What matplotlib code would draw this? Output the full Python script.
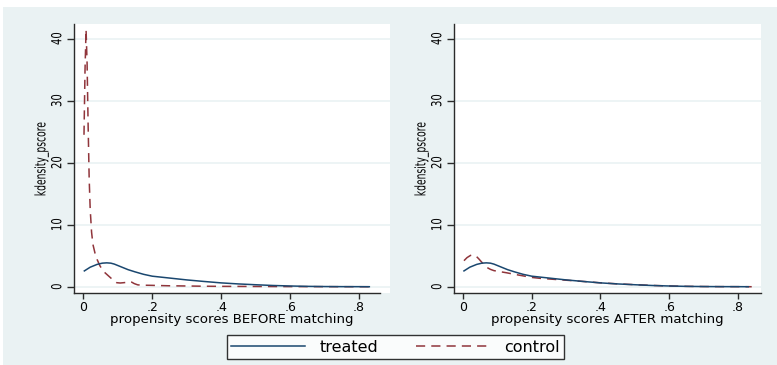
import matplotlib
matplotlib.use("Agg")
import matplotlib.pyplot as plt
from matplotlib.patches import Rectangle
from matplotlib.lines import Line2D
from matplotlib.patheffects import AbstractPathEffect
from matplotlib.transforms import Affine2D

# ---------------- data ----------------
treated_x = [0.003, 0.02, 0.04, 0.055, 0.068, 0.08, 0.09, 0.11, 0.13, 0.15, 0.175, 0.2,
             0.25, 0.3, 0.35, 0.4, 0.45, 0.5, 0.55, 0.6, 0.65, 0.7, 0.75, 0.8, 0.83]
treated_y = [2.55, 3.15, 3.6, 3.8, 3.85, 3.8, 3.65, 3.2, 2.75, 2.4, 2.0, 1.7,
             1.4, 1.1, 0.85, 0.62, 0.45, 0.32, 0.2, 0.12, 0.06, 0.03, 0.015, 0.01, 0.0]

ctrl_before_x = [0.002, 0.005, 0.008, 0.011, 0.014, 0.017, 0.02, 0.024, 0.028, 0.034,
                 0.04, 0.048, 0.058, 0.068, 0.078, 0.088, 0.097, 0.107, 0.117, 0.125,
                 0.132, 0.14, 0.148, 0.158, 0.17, 0.2, 0.25, 0.3, 0.35, 0.4, 0.5,
                 0.6, 0.7, 0.8, 0.84]
ctrl_before_y = [24.5, 35.0, 41.5, 36.0, 26.0, 17.5, 12.5, 8.8, 6.8, 5.4,
                 4.4, 3.4, 2.5, 2.0, 1.5, 1.0, 0.65, 0.6, 0.65, 0.7,
                 0.85, 0.75, 0.5, 0.3, 0.25, 0.22, 0.15, 0.12, 0.08, 0.06, 0.04,
                 0.02, 0.01, 0.0, 0.0]

ctrl_after_x = [0.003, 0.012, 0.022, 0.03, 0.038, 0.046, 0.054, 0.062, 0.07, 0.08, 0.09,
                0.1, 0.127, 0.15, 0.175, 0.2, 0.225, 0.25, 0.3, 0.35, 0.4, 0.45, 0.5,
                0.55, 0.6, 0.65, 0.7, 0.75, 0.8, 0.84]
ctrl_after_y = [4.2, 4.7, 5.05, 5.15, 4.95, 4.5, 4.0, 3.5, 3.1, 2.8, 2.6,
                2.5, 2.25, 2.0, 1.75, 1.5, 1.35, 1.25, 1.05, 0.85, 0.63, 0.46, 0.33,
                0.21, 0.12, 0.06, 0.03, 0.015, 0.01, 0.0]

x_ticks = [0, 0.2, 0.4, 0.6, 0.8]
x_ticklabels = ["0", ".2", ".4", ".6", ".8"]
y_ticks = [0, 10, 20, 30, 40]
y_ticklabels = ["0", "10", "20", "30", "40"]

panel_xlabels = ["propensity scores BEFORE matching", "propensity scores AFTER matching"]
ylabel = "kdensity_pscore"
series_labels = ["treated", "control"]

# ---------------- style ----------------
BG = "#EAF2F3"
NAVY = "#1A476F"
MAROON = "#90353B"
SPINE = "#2b2b2b"


class Condense(AbstractPathEffect):
    """Draw text squeezed along its own baseline (about its centre)."""

    def __init__(self, factor):
        super().__init__()
        self.factor = factor

    def draw_path(self, renderer, gc, tpath, affine, rgbFace=None):
        ext = tpath.get_extents()
        cx = 0.5 * (ext.x0 + ext.x1)
        squeeze = Affine2D().translate(-cx, 0).scale(self.factor, 1).translate(cx, 0)
        renderer.draw_path(gc, tpath, squeeze + affine, rgbFace)


plt.rcParams["font.family"] = ["DejaVu Sans"]

W, H = 777, 365
fig = plt.figure(figsize=(W / 100, H / 100), dpi=100)
fig.patch.set_facecolor("white")
fig.add_artist(Rectangle((3 / W, 0), 1 - 3 / W, 1 - 7 / H, transform=fig.transFigure,
                         facecolor=BG, edgecolor="none", zorder=-10))

bottom = 1 - 293.3 / H
height = (293.3 - 24.3) / H
axes_pos = [[74 / W, bottom, (390 - 74) / W, height],
            [454 / W, bottom, (761 - 454) / W, height]]
xlims = [(-0.027, 0.89), (-0.026, 0.867)]
spine_ends = [0.861, 0.867]
ctrl_sets = [(ctrl_before_x, ctrl_before_y), (ctrl_after_x, ctrl_after_y)]

dash = (6.0, 4.0)
for i in range(2):
    ax = fig.add_axes(axes_pos[i])
    ax.set_facecolor("white")
    ax.set_xlim(*xlims[i])
    ax.set_ylim(-1.06, 42.32)
    for y in y_ticks:
        ax.axhline(y, color=BG, lw=1.2, zorder=0)
    ax.plot(treated_x, treated_y, color=NAVY, lw=1.1, zorder=3)
    cx, cy = ctrl_sets[i]
    ax.plot(cx, cy, color=MAROON, lw=1.1, dashes=dash, zorder=2)
    for s in ["top", "right"]:
        ax.spines[s].set_visible(False)
    for s in ["left", "bottom"]:
        ax.spines[s].set_color(SPINE)
        ax.spines[s].set_linewidth(1.0)
    ax.spines["bottom"].set_bounds(xlims[i][0], spine_ends[i])
    ax.set_xticks(x_ticks)
    ax.set_xticklabels(x_ticklabels, fontsize=9)
    ax.set_yticks(y_ticks)
    ax.set_yticklabels(y_ticklabels, rotation=90, va="center", fontsize=10)
    for t in ax.get_yticklabels():
        t.set_path_effects([Condense(0.72)])
    ax.tick_params(axis="both", direction="out", length=4, width=1.0, color=SPINE,
                   pad=1.5)
    ax.tick_params(axis="y", length=5, pad=2)
    ax.set_xlabel(panel_xlabels[i], fontsize=9.6, labelpad=-0.5)
    yl = ax.set_ylabel(ylabel, fontsize=10.5, labelpad=0.5)
    yl.set_path_effects([Condense(0.63)])

handles = [Line2D([], [], color=NAVY, lw=1.1),
           Line2D([], [], color=MAROON, lw=1.1, dashes=dash)]
leg = fig.legend(handles, series_labels, loc="center", ncol=2,
                 bbox_to_anchor=((223 + 568) / 2 / W, 1 - 347 / H),
                 fontsize=11.5, handlelength=4.6, handletextpad=0.9, columnspacing=2.4,
                 frameon=True, fancybox=False, borderpad=0.3, borderaxespad=0)
leg.get_frame().set_edgecolor("black")
leg.get_frame().set_linewidth(1.0)
leg.get_frame().set_facecolor("white")

fig.savefig("out.png", dpi=100, facecolor=fig.get_facecolor())
